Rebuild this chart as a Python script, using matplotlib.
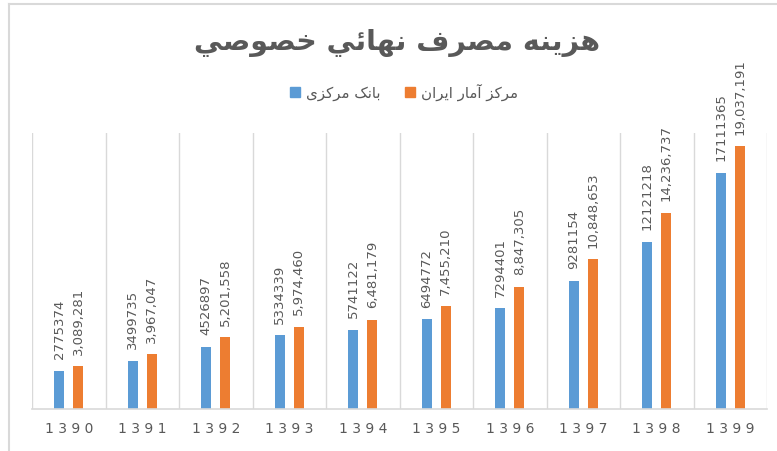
import numpy as np
import matplotlib
matplotlib.use('Agg')
import matplotlib.pyplot as plt
from matplotlib.lines import Line2D

# -----------------------------------------------------------------------------
# DATA
# -----------------------------------------------------------------------------
years = ['1390', '1391', '1392', '1393', '1394', '1395', '1396', '1397', '1398', '1399']
bank_markazi = [2775374, 3499735, 4526897, 5334339, 5741122, 6494772, 7294401, 9281154, 12121218, 17111365]
markaz_amar = [3089281, 3967047, 5201558, 5974460, 6481179, 7455210, 8847305, 10848653, 14236737, 19037191]

TITLE = 'هزينه مصرف نهائي خصوصي'
LABEL_BANK = 'بانک مرکزی'
LABEL_AMAR = 'مرکز آمار ایران'

BLUE = '#5b9bd5'
ORANGE = '#ed7d31'
GRAY = '#595959'
GRID = '#d9d9d9'

# -----------------------------------------------------------------------------
# minimal arabic shaping (presentation forms + visual order)
# -----------------------------------------------------------------------------
# char: (isolated, final, initial, medial); None -> right-joining only
FORMS = {
    'ا': ('\uFE8D', '\uFE8E', None, None),
    'آ': ('\uFE81', '\uFE82', None, None),
    'ز': ('\uFEAF', '\uFEB0', None, None),
    'ر': ('\uFEAD', '\uFEAE', None, None),
    'و': ('\uFEED', '\uFEEE', None, None),
    'ه': ('\uFEE9', '\uFEEA', '\uFEEB', '\uFEEC'),
    'ي': ('\uFEF1', '\uFEF2', '\uFEF3', '\uFEF4'),
    'ی': ('\uFBFC', '\uFBFD', '\uFBFE', '\uFBFF'),
    'ن': ('\uFEE5', '\uFEE6', '\uFEE7', '\uFEE8'),
    'م': ('\uFEE1', '\uFEE2', '\uFEE3', '\uFEE4'),
    'ص': ('\uFEB9', '\uFEBA', '\uFEBB', '\uFEBC'),
    'ف': ('\uFED1', '\uFED2', '\uFED3', '\uFED4'),
    'ئ': ('\uFE89', '\uFE8A', '\uFE8B', '\uFE8C'),
    'خ': ('\uFEA5', '\uFEA6', '\uFEA7', '\uFEA8'),
    'ب': ('\uFE8F', '\uFE90', '\uFE91', '\uFE92'),
    'ک': ('\uFB8E', '\uFB8F', '\uFB90', '\uFB91'),
}


def shape(text):
    out = []
    for i, ch in enumerate(text):
        if ch not in FORMS:
            out.append(ch)
            continue
        prev = text[i - 1] if i > 0 else ''
        nxt = text[i + 1] if i + 1 < len(text) else ''
        join_prev = prev in FORMS and FORMS[prev][2] is not None
        join_next = FORMS[ch][2] is not None and nxt in FORMS
        iso, fin, ini, med = FORMS[ch]
        if join_prev and join_next:
            out.append(med)
        elif join_prev:
            out.append(fin)
        elif join_next:
            out.append(ini)
        else:
            out.append(iso)
    return ''.join(out)[::-1]


# -----------------------------------------------------------------------------
fig = plt.figure(figsize=(7.77, 4.52), dpi=100)
ax = fig.add_axes([32 / 777, 42 / 452, 735 / 777, 276 / 452])

x = np.arange(len(years))
off, w = 0.128, 0.135
ax.bar(x - off, bank_markazi, w, color=BLUE, zorder=3)
ax.bar(x + off, markaz_amar, w, color=ORANGE, zorder=3)

for xi, v in zip(x - off, bank_markazi):
    ax.annotate(f'{v}', (xi, v), xytext=(0, 9), textcoords='offset points',
                rotation=90, ha='center', va='bottom', fontsize=9.5, color=GRAY)
for xi, v in zip(x + off, markaz_amar):
    ax.annotate(f'{v:,}', (xi, v), xytext=(0, 9), textcoords='offset points',
                rotation=90, ha='center', va='bottom', fontsize=9.5, color=GRAY)

ax.set_xlim(-0.5, len(years) - 0.5)
ax.set_ylim(0, 20000000)
for b in np.arange(-0.5, len(years), 1.0):
    ax.axvline(b, color=GRID, lw=1, zorder=1)
for s in ax.spines.values():
    s.set_visible(False)
ax.axhline(0, color=GRID, lw=1.2, zorder=4, clip_on=False)
ax.set_yticks([])
ax.set_xticks(x)
ax.set_xticklabels([' '.join(y) for y in years], fontsize=10, color=GRAY)
ax.tick_params(axis='x', length=0, pad=9)

fig.text(0.511, 0.905, shape(TITLE), ha='center', va='center', fontsize=20.5,
         fontweight='bold', color=GRAY)
handles = [plt.Rectangle((0, 0), 1, 1, color=BLUE), plt.Rectangle((0, 0), 1, 1, color=ORANGE)]
fig.legend(handles, [shape(LABEL_BANK), shape(LABEL_AMAR)], loc='center',
           bbox_to_anchor=(0.52, 0.795), ncol=2, frameon=False, fontsize=10.8,
           labelcolor=GRAY, handlelength=0.7, handleheight=0.7, handletextpad=0.4,
           columnspacing=1.6)

# chart frame (left and top edges)
fig.add_artist(Line2D([8.5 / 777, 8.5 / 777], [0, 447.5 / 452], color=GRID, lw=1.5))
fig.add_artist(Line2D([8.5 / 777, 1], [447.5 / 452, 447.5 / 452], color=GRID, lw=1.5))

fig.savefig('out.png', dpi=100)
